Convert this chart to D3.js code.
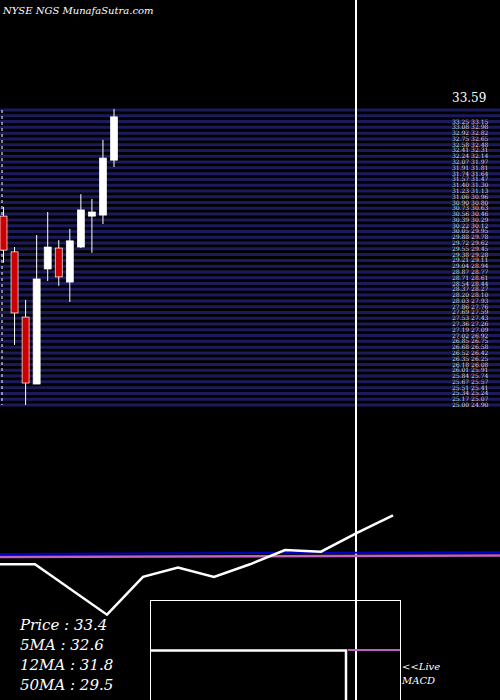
<!DOCTYPE html><html><head><script src="https://cdn.jsdelivr.net/npm/d3@7"></script>
<style>body{margin:0;background:#000}</style></head><body><svg id="c" width="500" height="700"></svg>
<script>
const opens  = [30.50,29.46,27.56,25.61,28.96,29.57,28.58,29.60,30.50,30.53,32.13];
const closes = [29.51,27.68,25.64,28.67,29.60,28.73,29.78,30.68,30.62,32.19,33.39];
const highs  = [30.77,29.60,28.06,29.95,30.62,29.80,30.13,31.14,31.00,32.72,33.62];
const lows   = [29.14,26.75,25.00,25.61,28.61,28.47,28.00,29.57,29.43,30.27,31.93];
const macd   = [-0.2,-0.2,-1.8,-0.6,-0.3,-0.6,-0.2,0.25,0.2,0.8,1.35];
const macdX  = [0,35,107,143,178,214,250,285,321,357,393];
const signal = [0.1,0.1];
const legend = ["Price   : 33.4","5MA : 32.6","12MA : 31.8","50MA : 29.5"];
const topLabel = "33.59";

const svg=d3.select("#c");
svg.append("rect").attr("width",500).attr("height",700).attr("fill","#000");
const y=d3.scaleLinear().domain([25,33.59]).range([405,110]);
const x=d3.scaleLinear().domain([0,10]).range([3.5,114]);
// grid stripes
const levels=d3.range(0,52).map(i=>25+i*(8.59/51));
svg.selectAll("line.g").data(levels).enter().append("line")
 .attr("x1",0).attr("x2",500).attr("y1",d=>y(d)).attr("y2",d=>y(d))
 .attr("stroke","#1b1b5c").attr("stroke-width",3);
svg.selectAll("text.gl").data(levels.slice(0,50)).enter().append("text")
 .attr("x",452).attr("y",d=>y(d)+2).attr("fill","#ddd").attr("font-size",6)
 .attr("font-family","DejaVu Serif").text(d=>d.toFixed(2)+"  "+(d-0.1).toFixed(2));
svg.append("text").attr("x",452).attr("y",102).attr("fill","#fff").attr("font-size",12)
 .attr("font-family","DejaVu Serif").text(topLabel);
svg.append("line").attr("x1",2).attr("x2",2).attr("y1",110).attr("y2",405).attr("stroke","#fff").attr("stroke-dasharray","3,3");
const idx=d3.range(opens.length);
svg.selectAll("line.w").data(idx).enter().append("line")
 .attr("x1",i=>x(i)).attr("x2",i=>x(i)).attr("y1",i=>y(highs[i])).attr("y2",i=>y(lows[i]))
 .attr("stroke","#fff").attr("stroke-width",1);
svg.selectAll("rect.b").data(idx).enter().append("rect")
 .attr("x",i=>x(i)-3.5).attr("width",7)
 .attr("y",i=>y(Math.max(opens[i],closes[i])))
 .attr("height",i=>Math.max(2,Math.abs(y(opens[i])-y(closes[i]))))
 .attr("fill",i=>closes[i]>=opens[i]?"#fff":"#cc0000").attr("stroke","#fff").attr("stroke-width",0.7);
svg.append("text").attr("x",3).attr("y",14).attr("fill","#fff").attr("font-size",10)
 .attr("font-style","italic").attr("font-family","DejaVu Serif").text("NYSE NGS MunafaSutra.com");
// vertical line
svg.append("line").attr("x1",356).attr("x2",356).attr("y1",0).attr("y2",700).attr("stroke","#fff").attr("stroke-width",2);
// MACD panel
const my=d3.scaleLinear().domain([-2,2]).range([621,495]);
svg.append("line").attr("x1",0).attr("x2",500).attr("y1",my(0.13)).attr("y2",my(0.18)).attr("stroke","#0000cc").attr("stroke-width",2);
svg.append("line").attr("x1",0).attr("x2",500).attr("y1",my(0.03)).attr("y2",my(0.08)).attr("stroke","#c060c0").attr("stroke-width",2.5);
svg.append("path").datum(macd).attr("fill","none").attr("stroke","#fff").attr("stroke-width",2.5)
 .attr("d",d3.line().x((d,i)=>macdX[i]).y(d=>my(d)));
svg.append("rect").attr("x",150.5).attr("y",600.5).attr("width",250).attr("height",110).attr("fill","none").attr("stroke","#fff");
svg.append("path").attr("d","M151,650.5H346V700").attr("fill","none").attr("stroke","#fff").attr("stroke-width",2.5);
svg.append("line").attr("x1",348).attr("x2",400).attr("y1",650).attr("y2",650).attr("stroke","#c060c0").attr("stroke-width",2);
svg.selectAll("text.lg").data(legend).enter().append("text")
 .attr("x",20).attr("y",(d,i)=>630+i*20).attr("fill","#fff").attr("font-size",15)
 .attr("font-style","italic").attr("font-family","DejaVu Serif").text(d=>d);
svg.append("text").attr("x",402).attr("y",670).attr("fill","#fff").attr("font-size",10).attr("font-style","italic").attr("font-family","DejaVu Serif").text("<<Live");
svg.append("text").attr("x",402).attr("y",684).attr("fill","#fff").attr("font-size",10).attr("font-style","italic").attr("font-family","DejaVu Serif").text("MACD");
</script></body></html>
